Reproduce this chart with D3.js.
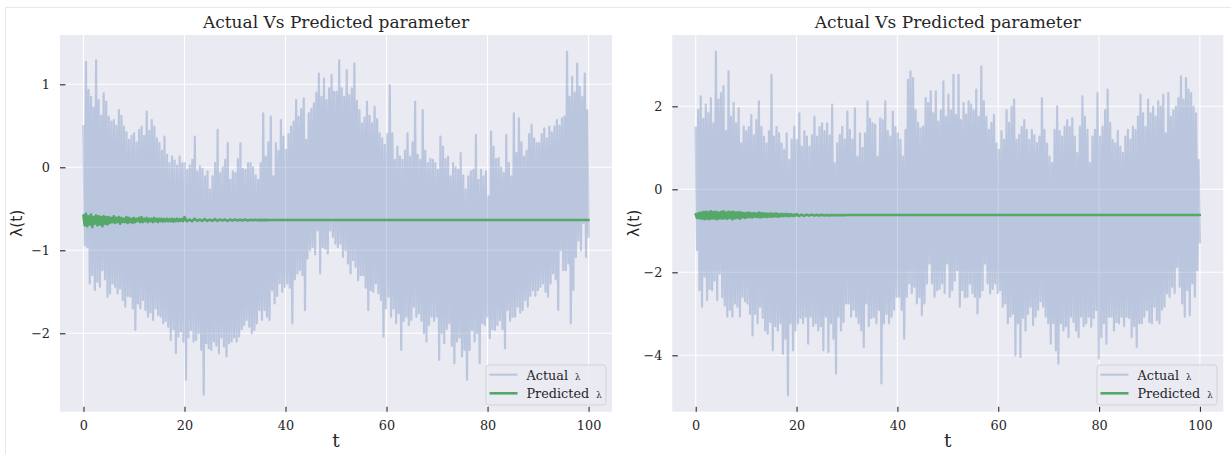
<!DOCTYPE html>
<html>
<head>
<meta charset="utf-8">
<script src="https://cdn.jsdelivr.net/npm/d3@7"></script>
<style>
  html, body { margin: 0; padding: 0; background: #ffffff; }
  svg { display: block; }
</style>
</head>
<body>
<svg id="chart" width="1231" height="454"></svg>
<script>
// ---- data -------------------------------------------------------------
const TITLE = "Actual Vs Predicted parameter";
const X_TICKS = [0, 20, 40, 60, 80, 100];
const Y_TICKS_LEFT = [-2, -1, 0, 1];
const Y_TICKS_RIGHT = [-4, -2, 0, 2];
const LEGEND_LABELS = ["Actual", "Predicted"];

// actual λ(t), sampled uniformly over t = 0 … 100
const actualLeft = [
  0.51,-0.94,1.27,-0.96,0.93,-1.40,0.85,-1.30,0.72,-1.48,1.29,-1.38,0.81,-1.44,0.62,-1.24,0.89,-1.35,0.79,-1.56,
  0.61,-1.52,0.55,-1.40,0.57,-1.44,0.50,-1.52,0.69,-1.46,0.62,-1.60,0.49,-1.68,0.42,-1.55,0.33,-1.56,0.38,-1.70,
  0.41,-1.96,0.30,-1.64,0.45,-1.70,0.49,-1.60,0.38,-1.72,0.67,-1.80,0.44,-1.75,0.57,-1.84,0.49,-1.70,0.35,-1.78,
  0.29,-1.80,0.20,-1.88,0.37,-1.85,0.15,-1.92,0.05,-2.08,0.13,-1.95,0.08,-2.24,0.02,-2.04,0.13,-1.98,0.05,-2.10,
  0.05,-2.56,-0.03,-2.05,0.02,-1.96,0.09,-2.10,0.37,-2.08,-0.05,-2.00,0.01,-2.20,-0.02,-2.74,-0.11,-2.12,-0.05,-2.18,
  -0.27,-2.20,-0.11,-2.10,0.05,-2.15,0.45,-2.24,-0.07,-2.05,0.00,-2.16,0.09,-2.28,0.29,-2.12,-0.15,-2.10,-0.05,-2.05,
  -0.07,-2.10,0.10,-2.04,0.29,-1.95,-0.02,-1.90,-0.03,-1.84,0.05,-1.92,0.05,-2.00,0.00,-1.96,-0.10,-1.88,-0.15,-1.72,
  0.05,-1.84,0.65,-1.72,0.13,-1.80,0.30,-1.84,0.61,-1.48,-0.11,-1.64,0.29,-1.55,0.20,-1.40,0.57,-1.50,0.37,-1.44,
  0.21,-1.40,0.40,-1.45,0.49,-1.88,0.55,-1.35,0.81,-1.28,0.61,-1.24,0.70,-1.30,0.83,-1.72,0.33,-1.10,0.65,-1.00,
  0.70,-0.96,0.77,-1.05,0.90,-0.76,1.13,-1.28,0.85,-0.96,1.07,-0.98,0.81,-1.04,0.95,-0.76,1.11,-0.84,0.91,-0.92,
  0.91,-0.96,1.29,-0.92,0.95,-1.08,0.85,-1.00,1.17,-1.16,0.87,-1.28,0.95,-1.12,1.25,-1.20,0.80,-1.36,0.69,-1.30,
  0.53,-1.30,0.60,-1.45,0.79,-1.72,0.62,-1.48,0.53,-1.50,0.73,-1.40,0.58,-1.52,0.41,-1.60,0.35,-2.04,0.27,-1.70,
  0.40,-1.56,0.99,-1.80,0.41,-1.70,0.09,-1.88,0.25,-1.76,0.13,-2.20,0.09,-1.85,0.20,-1.80,0.41,-1.90,0.13,-1.84,
  0.30,-1.68,0.79,-1.80,0.15,-1.76,0.09,-1.85,0.69,-2.00,0.20,-2.10,0.05,-1.90,0.10,-1.80,0.09,-1.85,0.05,-1.80,
  -0.03,-2.32,0.37,-2.00,0.25,-2.12,0.10,-1.95,0.13,-1.88,-0.11,-2.15,0.05,-2.36,0.00,-2.10,-0.03,-2.05,0.17,-2.28,
  -0.10,-2.20,-0.27,-2.56,-0.11,-2.20,-0.05,-1.96,-0.03,-2.10,0.39,-2.00,-0.15,-2.36,-0.03,-1.88,-0.11,-1.90,-0.05,-1.80,
  -0.35,-2.06,0.43,-1.95,0.25,-1.96,0.10,-1.90,0.11,-1.84,0.00,-1.95,-0.07,-2.18,0.39,-1.72,0.05,-1.85,-0.11,-1.80,
  0.65,-1.80,0.17,-1.68,0.59,-1.75,0.30,-1.72,0.13,-1.60,0.20,-1.68,0.40,-1.55,0.51,-1.48,0.35,-1.55,0.29,-1.48,
  0.29,-1.44,0.40,-1.40,0.47,-1.50,0.35,-1.56,0.49,-1.40,0.42,-1.28,0.49,-1.35,0.57,-1.72,0.50,-1.00,0.59,-1.24,
  0.61,-1.24,1.39,-1.16,0.85,-1.88,1.09,-1.48,0.90,-1.08,1.25,-0.88,0.97,-1.00,0.85,-0.67,1.13,-1.08,0.69,-0.85
];

const actualRight = [
  1.51,-1.46,1.91,-2.43,2.24,-2.83,1.70,-2.10,2.04,-2.67,1.83,-2.40,2.20,-2.43,1.59,-2.20,3.32,-2.67,2.16,-2.03,
  2.32,-2.60,2.48,-2.80,1.40,-3.07,2.84,-2.90,1.75,-3.07,2.08,-2.75,1.59,-2.83,1.95,-3.07,1.11,-2.59,1.51,-2.70,
  1.40,-2.75,1.50,-3.00,1.79,-3.52,1.30,-3.00,1.67,-3.23,2.12,-2.83,1.50,-3.10,1.27,-3.40,1.11,-3.48,1.40,-3.20,
  2.76,-3.88,1.27,-3.30,1.50,-3.40,1.35,-3.23,1.10,-3.96,0.95,-3.60,1.35,-4.96,0.71,-3.23,1.20,-3.88,1.51,-3.40,
  1.19,-3.23,1.83,-3.10,1.03,-3.23,1.40,-3.07,1.27,-3.72,1.03,-3.07,1.30,-3.30,1.75,-3.23,1.27,-3.40,1.50,-3.30,
  1.59,-3.88,1.40,-3.07,1.59,-3.92,1.30,-3.23,2.04,-3.60,0.63,-4.44,1.11,-3.07,1.31,-3.40,1.50,-3.20,1.20,-2.75,
  1.87,-2.75,1.43,-3.07,1.20,-2.90,1.95,-3.07,0.79,-3.23,1.35,-3.40,1.00,-3.80,1.35,-2.75,2.12,-3.30,1.70,-3.10,
  1.59,-3.07,1.55,-3.23,0.79,-2.91,1.71,-4.68,1.67,-3.23,2.12,-3.00,1.40,-3.23,1.27,-3.07,1.87,-2.90,1.50,-2.59,
  1.35,-2.59,1.19,-2.91,0.79,-3.60,1.43,-2.59,2.64,-2.27,2.84,-2.50,2.68,-2.35,1.91,-2.75,1.60,-2.60,1.47,-3.03,
  1.51,-2.75,2.20,-2.27,2.08,-1.79,2.36,-2.27,1.83,-2.59,2.36,-2.43,1.63,-2.40,1.90,-2.27,2.60,-2.50,1.75,-1.79,
  2.28,-2.59,1.90,-2.43,2.76,-2.20,1.79,-1.95,2.76,-2.83,1.67,-2.43,2.08,-2.60,1.80,-2.59,2.12,-2.27,2.04,-2.50,
  1.90,-2.59,2.40,-2.99,1.75,-2.60,2.96,-2.43,2.12,-1.79,1.75,-2.27,1.43,-2.51,1.60,-2.40,1.79,-2.27,1.11,-2.50,
  0.95,-2.43,1.40,-2.83,1.19,-2.75,1.91,-3.23,1.60,-3.07,1.99,-3.00,2.16,-4.00,1.19,-3.23,1.31,-4.04,1.50,-3.10,
  1.67,-3.40,1.43,-3.00,1.19,-2.83,1.43,-3.27,1.30,-3.07,1.11,-2.90,1.27,-2.70,2.20,-2.83,1.43,-3.07,1.10,-3.23,
  0.79,-3.72,0.63,-3.23,1.43,-3.88,2.00,-4.20,1.40,-3.23,1.27,-3.40,1.51,-3.30,1.67,-3.56,1.50,-3.07,1.71,-3.20,
  1.27,-3.40,0.87,-3.56,1.51,-3.07,2.24,-3.30,1.75,-3.23,1.43,-3.07,0.63,-3.31,1.27,-3.10,1.43,-2.91,2.32,-4.08,
  1.27,-3.56,1.51,-3.23,1.91,-3.72,2.40,-3.07,1.60,-3.07,1.19,-3.40,1.11,-3.20,1.40,-3.23,1.03,-3.07,0.87,-3.30,
  1.27,-3.07,1.43,-3.10,1.20,-3.56,1.51,-3.30,1.43,-3.80,1.75,-3.23,2.28,-3.23,1.83,-3.07,1.50,-2.91,2.16,-3.20,
  1.83,-3.23,1.99,-2.83,1.75,-3.15,2.12,-3.23,1.99,-2.90,2.28,-2.83,1.35,-2.51,2.32,-2.59,1.75,-2.35,1.90,-2.50,
  1.99,-1.87,2.20,-2.35,2.72,-2.75,2.16,-3.07,2.68,-2.43,2.40,-3.03,2.32,-2.27,1.99,-2.59,1.83,-1.95,0.71,-1.30
];

// predicted λ(t): dense samples every 0.25 over t = 0 … 19.75
const predictedLeftEarly = [
  -0.58,-0.70,-0.56,-0.71,-0.59,-0.69,-0.57,-0.72,-0.60,-0.68,-0.58,-0.70,-0.59,-0.69,-0.60,-0.71,-0.59,-0.68,-0.60,-0.69,
  -0.60,-0.67,-0.61,-0.66,-0.59,-0.67,-0.61,-0.66,-0.60,-0.68,-0.61,-0.66,-0.62,-0.66,-0.60,-0.67,-0.61,-0.66,-0.62,-0.67,
  -0.61,-0.66,-0.62,-0.65,-0.61,-0.66,-0.60,-0.66,-0.62,-0.65,-0.61,-0.66,-0.62,-0.65,-0.62,-0.66,-0.61,-0.65,-0.62,-0.66,
  -0.62,-0.65,-0.62,-0.655,-0.625,-0.65,-0.62,-0.65,-0.625,-0.65,-0.62,-0.655,-0.625,-0.65,-0.62,-0.65,-0.625,-0.645,-0.625,-0.65
];
// predicted λ(t) after t = 20, as [t, value]
const predictedLeftLate = [
  [20,-0.60],[20.5,-0.65],[21,-0.63],[21.5,-0.65],[22,-0.62],[22.5,-0.645],[23,-0.63],[23.5,-0.645],[24,-0.625],[24.5,-0.645],
  [25,-0.63],[25.5,-0.645],[26,-0.625],[26.5,-0.645],[27,-0.63],[27.5,-0.64],[28,-0.63],[28.5,-0.645],[29,-0.63],[29.5,-0.64],
  [30,-0.63],[30.5,-0.64],[31,-0.632],[31.5,-0.64],[32,-0.63],[32.5,-0.64],[33,-0.633],[33.5,-0.638],[34,-0.632],[34.5,-0.638],
  [35,-0.634],[35.5,-0.637],[36,-0.634],[36.5,-0.637],[37,-0.635],[37.5,-0.636],[38,-0.635],[38.5,-0.636],[39,-0.635],[39.5,-0.636],
  [40,-0.635],[100,-0.635]
];

const predictedRightEarly = [
  -0.60,-0.69,-0.58,-0.70,-0.56,-0.71,-0.55,-0.72,-0.54,-0.71,-0.55,-0.72,-0.53,-0.70,-0.55,-0.71,-0.54,-0.72,-0.56,-0.70,
  -0.55,-0.71,-0.53,-0.70,-0.56,-0.71,-0.54,-0.69,-0.55,-0.72,-0.54,-0.70,-0.56,-0.69,-0.55,-0.71,-0.56,-0.68,-0.57,-0.69,
  -0.57,-0.68,-0.56,-0.67,-0.58,-0.68,-0.57,-0.66,-0.58,-0.67,-0.56,-0.68,-0.57,-0.67,-0.58,-0.66,-0.58,-0.67,-0.59,-0.66,
  -0.58,-0.66,-0.59,-0.65,-0.58,-0.66,-0.60,-0.65,-0.59,-0.65,-0.60,-0.64,-0.59,-0.65,-0.60,-0.64,-0.60,-0.64,-0.61,-0.64
];
const predictedRightLate = [
  [20,-0.60],[20.5,-0.64],[21,-0.61],[21.5,-0.64],[22,-0.61],[22.5,-0.635],[23,-0.61],[23.5,-0.63],[24,-0.615],[24.5,-0.63],
  [25,-0.615],[25.5,-0.63],[26,-0.618],[26.5,-0.628],[27,-0.618],[27.5,-0.626],[28,-0.62],[28.5,-0.625],[29,-0.62],[29.5,-0.624],
  [30,-0.62],[100,-0.62]
];

// ---- layout -----------------------------------------------------------
const W = 1231, H = 454;
const TOP = 35, BOTTOM = 411.7;
const X_DOMAIN = [-4.64, 104.64];
const EARLY_STEP = 0.25;
const BG = "#EAEAF2", INK = "#262626";
const SERIF = "'DejaVu Serif', serif";
const SANS = "'DejaVu Sans', sans-serif";

const toPairs = (early, late) =>
  early.map((v, i) => [i * EARLY_STEP, v]).concat(late);

const panels = [
  { actual: actualLeft,  predicted: toPairs(predictedLeftEarly, predictedLeftLate),
    yTicks: Y_TICKS_LEFT,  yDomain: [-2.945, 1.594],
    left: 60,    right: 612,    ylabelX: 17,  legendX: 486 },
  { actual: actualRight, predicted: toPairs(predictedRightEarly, predictedRightLate),
    yTicks: Y_TICKS_RIGHT, yDomain: [-5.359, 3.718],
    left: 672.3, right: 1223.3, ylabelX: 634, legendX: 1097 }
];

const svg = d3.select("#chart");
svg.append("rect").attr("width", W).attr("height", H).attr("fill", "#ffffff");

// faint frame around the figure
svg.append("line").attr("x1", 5).attr("x2", W).attr("y1", 7.5).attr("y2", 7.5)
  .attr("stroke", "#e9e9e9").attr("stroke-width", 1);
svg.append("line").attr("x1", 5.5).attr("x2", 5.5).attr("y1", 7).attr("y2", H)
  .attr("stroke", "#e9e9e9").attr("stroke-width", 1);

const fmt = d3.format("d");

panels.forEach((p, k) => {
  const x = d3.scaleLinear().domain(X_DOMAIN).range([p.left, p.right]);
  const y = d3.scaleLinear().domain(p.yDomain).range([BOTTOM, TOP]);
  const g = svg.append("g");

  // axes background
  g.append("rect")
    .attr("x", p.left).attr("y", TOP)
    .attr("width", p.right - p.left).attr("height", BOTTOM - TOP)
    .attr("fill", BG);

  // white grid
  g.append("g").selectAll("line").data(X_TICKS).join("line")
    .attr("x1", d => x(d)).attr("x2", d => x(d))
    .attr("y1", TOP).attr("y2", BOTTOM)
    .attr("stroke", "#ffffff").attr("stroke-width", 1.1);
  g.append("g").selectAll("line").data(p.yTicks).join("line")
    .attr("x1", p.left).attr("x2", p.right)
    .attr("y1", d => y(d)).attr("y2", d => y(d))
    .attr("stroke", "#ffffff").attr("stroke-width", 1.1);

  // clipped series
  const clipId = "plot-clip-" + k;
  svg.append("clipPath").attr("id", clipId).append("rect")
    .attr("x", p.left).attr("y", TOP)
    .attr("width", p.right - p.left).attr("height", BOTTOM - TOP);
  const plot = g.append("g").attr("clip-path", `url(#${clipId})`);

  const n = p.actual.length;
  const actualLine = d3.line()
    .x((d, i) => x(i * 100 / (n - 1)))
    .y(d => y(d));
  plot.append("path").datum(p.actual)
    .attr("d", actualLine)
    .attr("fill", "none")
    .attr("stroke", "#4C72B0").attr("stroke-opacity", 0.3)
    .attr("stroke-width", 2.2).attr("stroke-linejoin", "round");

  const predLine = d3.line().x(d => x(d[0])).y(d => y(d[1]));
  plot.append("path").datum(p.predicted)
    .attr("d", predLine)
    .attr("fill", "none")
    .attr("stroke", "#55A868").attr("stroke-width", 2.6)
    .attr("stroke-linejoin", "round").attr("stroke-linecap", "round");

  // axes: ticks point inward, labels outside
  const xAxis = d3.axisBottom(x).tickValues(X_TICKS).tickFormat(fmt)
    .tickSizeInner(-5).tickSizeOuter(0).tickPadding(9);
  const gx = g.append("g").attr("transform", `translate(0,${BOTTOM})`).call(xAxis);
  const yAxis = d3.axisLeft(y).tickValues(p.yTicks).tickFormat(fmt)
    .tickSizeInner(-5.5).tickSizeOuter(0).tickPadding(10);
  const gy = g.append("g").attr("transform", `translate(${p.left},0)`).call(yAxis);
  [gx, gy].forEach(a => {
    a.select(".domain").remove();
    a.selectAll(".tick line").attr("stroke", INK).attr("stroke-width", 1.1);
    a.selectAll(".tick text").attr("fill", INK)
      .style("font-family", SERIF).style("font-size", "12.8px");
  });

  // title and axis labels
  const cx = (p.left + p.right) / 2;
  svg.append("text").attr("x", cx).attr("y", 28)
    .attr("text-anchor", "middle").attr("fill", INK)
    .style("font-family", SERIF).style("font-size", "17px")
    .text(TITLE);
  svg.append("text").attr("x", (x(0) + x(100)) / 2).attr("y", 446.5)
    .attr("text-anchor", "middle").attr("fill", INK)
    .style("font-family", SERIF).style("font-size", "18.5px")
    .text("t");
  svg.append("text")
    .attr("transform", `translate(${p.ylabelX},${(TOP + BOTTOM) / 2}) rotate(-90)`)
    .attr("text-anchor", "middle").attr("dominant-baseline", "central")
    .attr("fill", INK)
    .style("font-family", SANS).style("font-size", "15.5px")
    .text("λ(t)");

  // legend
  const lg = g.append("g").attr("transform", `translate(${p.legendX},365)`);
  lg.append("rect").attr("x", 0).attr("y", 0).attr("width", 120).attr("height", 40)
    .attr("rx", 3)
    .attr("fill", BG).attr("fill-opacity", 0.8)
    .attr("stroke", "#cccccc").attr("stroke-opacity", 0.8).attr("stroke-width", 1);
  const entries = [
    { label: LEGEND_LABELS[0], color: "#4C72B0", opacity: 0.3, width: 2 },
    { label: LEGEND_LABELS[1], color: "#55A868", opacity: 1, width: 2.6 }
  ];
  entries.forEach((e, i) => {
    const cyLine = 9.7 + i * 18.6;
    lg.append("line").attr("x1", 3.5).attr("x2", 31.5)
      .attr("y1", cyLine).attr("y2", cyLine)
      .attr("stroke", e.color).attr("stroke-opacity", e.opacity)
      .attr("stroke-width", e.width);
    const t = lg.append("text").attr("x", 40.5).attr("y", cyLine + 5)
      .attr("fill", INK)
      .style("font-family", SERIF).style("font-size", "12.8px");
    t.append("tspan").text(e.label);
    t.append("tspan").attr("dx", 7).style("font-size", "8.5px").text("λ");
  });
});
</script>
</body>
</html>
